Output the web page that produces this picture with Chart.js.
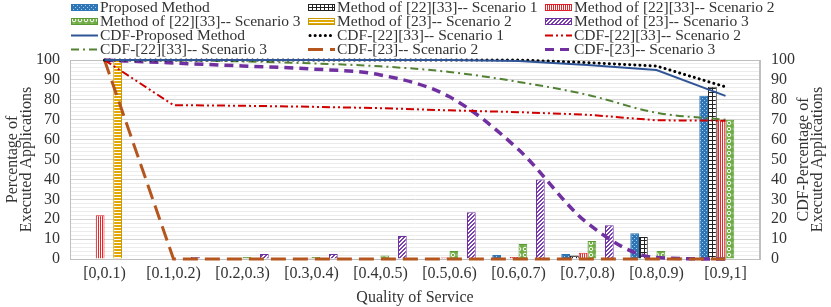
<!DOCTYPE html>
<html lang="en">
<head>
    <meta charset="UTF-8">
    <title>QoS distribution</title>
    <style>
        body { margin: 0; background: #fff; }
        #wrap { position: relative; width: 831px; height: 307px; }
        canvas#chart { position: absolute; left: 0; top: 0; }
        .item {
            position: absolute;
            height: 16px;
            display: flex;
            align-items: center;
            font-family: 'Liberation Serif', serif;
            font-size: 15.5px;
            color: #333;
            white-space: nowrap;
        }
        .item canvas { margin-right: 2px; }
    </style>
    <script src="https://cdn.jsdelivr.net/npm/chart.js"></script>
</head>
<body>
<div id="wrap">
    <canvas id="chart" width="831" height="307"></canvas>
    <div id="legend"></div>
</div>
<script>
    const categories = ['[0,0.1)', '[0.1,0.2)', '[0.2,0.3)', '[0.3,0.4)', '[0.4,0.5)',
                        '[0.5,0.6)', '[0.6,0.7)', '[0.7,0.8)', '[0.8,0.9)', '[0.9,1]'];

    // bars (left axis)
    const proposed   = [0, 0, 0, 0, 0, 0, 2, 2.5, 13, 82];
    const m2233s1    = [0, 0, 0, 0, 0, 0, 0, 1.8, 11, 86.5];
    const m2233s2    = [22, 0, 0.5, 0.6, 0, 0.8, 1, 3.2, 0, 70];
    const m2233s3    = [0, 0, 1, 1, 1.8, 4, 7.5, 9, 4, 70];
    const m23s2      = [100, 0, 0, 0, 0, 0, 0, 0, 0, 0];
    const m23s3      = [0, 1, 2.5, 2.5, 11.5, 23.5, 40, 17, 0.7, 0];

    // CDF lines (right axis)
    const cdfProposed = [100, 100, 100, 100, 100, 100, 99.5, 97.5, 95, 82];
    const cdf2233s1   = [100, 100, 100, 100, 100, 100, 100, 98.7, 97, 86.5];
    const cdf2233s2   = [100, 77.3, 77, 76.5, 75.8, 74.7, 73.8, 72.5, 69.7, 69.5];
    const cdf2233s3   = [100, 99.8, 99.3, 98.3, 96.8, 94, 89, 82.5, 73.5, 70];
    const cdf23s2     = [100, 0, 0, 0, 0, 0, 0, 0, 0, 0];
    const cdf23s3     = [100, 98.5, 97, 95.5, 92.5, 81.5, 55, 18, 0.7, 0];

    const yTicks = [0, 10, 20, 30, 40, 50, 60, 70, 80, 90, 100];

    const serif = 'Liberation Serif';

    // small tiles used as bar fills
    function makeTile(kind) {
        const c = document.createElement('canvas');
        const g = c.getContext('2d');
        if (kind === 'dots') {
            c.width = 4; c.height = 4;
            g.fillStyle = '#2e75b6'; g.fillRect(0, 0, 4, 4);
            g.fillStyle = '#a9cbeb';
            g.fillRect(0, 0, 1, 1); g.fillRect(2, 2, 1, 1);
        } else if (kind === 'grid') {
            c.width = 4; c.height = 4;
            g.fillStyle = '#fff'; g.fillRect(0, 0, 4, 4);
            g.fillStyle = '#222';
            g.fillRect(0, 0, 4, 1); g.fillRect(0, 0, 1, 4);
        } else if (kind === 'vstripe') {
            c.width = 2; c.height = 2;
            g.fillStyle = '#fff'; g.fillRect(0, 0, 2, 2);
            g.fillStyle = '#e8262a'; g.fillRect(0, 0, 1, 2);
        } else if (kind === 'circles') {
            c.width = 6; c.height = 6;
            g.fillStyle = '#70ad47'; g.fillRect(0, 0, 6, 6);
            g.strokeStyle = '#fff'; g.lineWidth = 1;
            g.beginPath(); g.arc(3, 3, 1.8, 0, Math.PI * 2); g.stroke();
        } else if (kind === 'hstripe') {
            c.width = 2; c.height = 3;
            g.fillStyle = '#fff'; g.fillRect(0, 0, 2, 3);
            g.fillStyle = '#e0a800'; g.fillRect(0, 0, 2, 2);
        } else if (kind === 'diag') {
            c.width = 4; c.height = 4;
            g.fillStyle = '#fff'; g.fillRect(0, 0, 4, 4);
            g.fillStyle = '#7a3fb0';
            for (let x = 0; x < 4; x++) {
                for (let y = 0; y < 4; y++) {
                    if ((x + y) % 4 < 2) g.fillRect(x, y, 1, 1);
                }
            }
        }
        return c;
    }

    const ctx = document.getElementById('chart').getContext('2d');
    function pat(kind) { return ctx.createPattern(makeTile(kind), 'repeat'); }

    const barSets = [
        { label: 'Proposed Method', data: proposed, fill: 'dots', border: '#2e75b6' },
        { label: 'Method of [22][33]-- Scenario 1', data: m2233s1, fill: 'grid', border: '#222' },
        { label: 'Method of [22][33]-- Scenario 2', data: m2233s2, fill: 'vstripe', border: '#e0202a' },
        { label: 'Method of [22][33]-- Scenario 3', data: m2233s3, fill: 'circles', border: '#5a9a35' },
        { label: 'Method of [23]-- Scenario 2', data: m23s2, fill: 'hstripe', border: '#c89600' },
        { label: 'Method of [23]-- Scenario 3', data: m23s3, fill: 'diag', border: '#7030a0' }
    ];

    const lineSets = [
        { label: 'CDF-Proposed Method', data: cdfProposed, color: '#2f5597', width: 2, dash: [], cap: 'butt', smooth: false },
        { label: 'CDF-[22][33]-- Scenario 1', data: cdf2233s1, color: '#000', width: 3, dash: [0.1, 5], cap: 'round', smooth: false },
        { label: 'CDF-[22][33]-- Scenario 2', data: cdf2233s2, color: '#d00000', width: 2, dash: [8, 3, 2, 3, 2, 3], cap: 'butt', smooth: false },
        { label: 'CDF-[22][33]-- Scenario 3', data: cdf2233s3, color: '#548235', width: 2, dash: [8, 4, 2, 4], cap: 'butt', smooth: true },
        { label: 'CDF-[23]-- Scenario 2', data: cdf23s2, color: '#b4561e', width: 3, dash: [15, 7], cap: 'butt', smooth: false },
        { label: 'CDF-[23]-- Scenario 3', data: cdf23s3, color: '#7030a0', width: 3.5, dash: [9, 6], cap: 'butt', smooth: true }
    ];

    const datasets = [];
    barSets.forEach(b => {
        datasets.push({
            type: 'bar',
            label: b.label,
            data: b.data,
            backgroundColor: pat(b.fill),
            borderColor: b.border,
            borderWidth: 1,
            yAxisID: 'y',
            order: 2,
            categoryPercentage: 0.76,
            barPercentage: 1.0
        });
    });
    lineSets.forEach(l => {
        datasets.push({
            type: 'line',
            label: l.label,
            data: l.data,
            borderColor: l.color,
            backgroundColor: l.color,
            borderWidth: l.width,
            borderDash: l.dash,
            borderCapStyle: l.cap,
            pointRadius: 0,
            cubicInterpolationMode: l.smooth ? 'monotone' : 'default',
            tension: 0,
            yAxisID: 'y2',
            order: 1,
            clip: 6
        });
    });

    // plot frame + rotated axis titles
    const framePlugin = {
        id: 'frame',
        beforeDatasetsDraw(chart) {
            const a = chart.chartArea;
            const c = chart.ctx;
            c.save();
            c.strokeStyle = '#bfbfbf';
            c.lineWidth = 1;
            c.strokeRect(a.left + 0.5, a.top + 0.5, a.right - a.left - 1, a.bottom - a.top);
            c.restore();
        },
        afterDraw(chart) {
            const c = chart.ctx;
            c.save();
            c.fillStyle = '#333';
            c.font = '16px ' + serif;
            c.textAlign = 'center';
            c.textBaseline = 'middle';
            const midY = (chart.chartArea.top + chart.chartArea.bottom) / 2;
            [[13, 'Percentage of'], [27, 'Executed Applications'],
             [804, 'CDF-Percentage of'], [818, 'Executed Applications']].forEach(([x, t]) => {
                c.save();
                c.translate(x, midY);
                c.rotate(-Math.PI / 2);
                c.fillText(t, 0, 0);
                c.restore();
            });
            c.restore();
        }
    };

    const tickFont = { family: serif, size: 16 };

    new Chart(ctx, {
        data: { labels: categories, datasets: datasets },
        options: {
            responsive: false,
            animation: false,
            layout: { padding: { top: 60, left: 0, right: 0, bottom: 0 } },
            plugins: { legend: { display: false }, tooltip: { enabled: false } },
            scales: {
                x: {
                    grid: { display: false, drawTicks: false },
                    border: { color: '#bfbfbf' },
                    ticks: { font: tickFont, color: '#333', maxRotation: 0, autoSkip: false, padding: 5 },
                    title: { display: true, text: 'Quality of Service', font: tickFont, color: '#333', padding: { top: 0, bottom: 0 } },
                    afterFit(s) { s.height = 48; }
                },
                y: {
                    position: 'left',
                    min: 0, max: 100,
                    afterBuildTicks(s) {
                        const t = [];
                        for (let v = 0; v <= 100; v += 2) t.push({ value: v });
                        s.ticks = t;
                    },
                    ticks: {
                        font: tickFont, color: '#333', padding: 10, autoSkip: false,
                        callback: v => yTicks.includes(v) ? v : ''
                    },
                    grid: {
                        color: c => (c.tick && c.tick.value % 10 === 0) ? '#d4d4d4' : '#ececec',
                        drawTicks: false
                    },
                    border: { color: '#bfbfbf' },
                    afterFit(s) { s.width = 70; }
                },
                y2: {
                    position: 'right',
                    min: 0, max: 100,
                    afterBuildTicks(s) { s.ticks = yTicks.map(v => ({ value: v })); },
                    ticks: { font: tickFont, color: '#333', padding: 11, autoSkip: false },
                    grid: { display: false, drawTicks: false },
                    border: { color: '#bfbfbf' },
                    afterFit(s) { s.width = 71; }
                }
            }
        },
        plugins: [framePlugin]
    });

    // legend, three columns
    const legendCols = [71, 308, 545];
    const legendRows = [7, 21, 35, 49];
    const legendItems = [];
    barSets.forEach(b => legendItems.push({ label: b.label, bar: b }));
    lineSets.forEach(l => legendItems.push({ label: l.label, line: l }));

    const legendEl = document.getElementById('legend');
    legendItems.forEach((it, i) => {
        const div = document.createElement('div');
        div.className = 'item';
        div.style.left = legendCols[i % 3] + 'px';
        div.style.top = (legendRows[Math.floor(i / 3)] - 8) + 'px';
        const sw = document.createElement('canvas');
        sw.width = 27; sw.height = 8;
        const g = sw.getContext('2d');
        if (it.bar) {
            g.fillStyle = g.createPattern(makeTile(it.bar.fill), 'repeat');
            g.fillRect(0, 1, 27, 7);
            g.strokeStyle = it.bar.border;
            g.lineWidth = 1;
            g.strokeRect(0.5, 1.5, 26, 6);
        } else {
            const l = it.line;
            g.strokeStyle = l.color;
            g.lineWidth = Math.min(l.width, 3);
            g.lineCap = l.cap;
            g.setLineDash(l.dash);
            g.beginPath(); g.moveTo(l.cap === 'round' ? 2 : 0, 4.5); g.lineTo(27, 4.5); g.stroke();
        }
        div.appendChild(sw);
        const span = document.createElement('span');
        span.textContent = it.label;
        div.appendChild(span);
        legendEl.appendChild(div);
    });
</script>
</body>
</html>
